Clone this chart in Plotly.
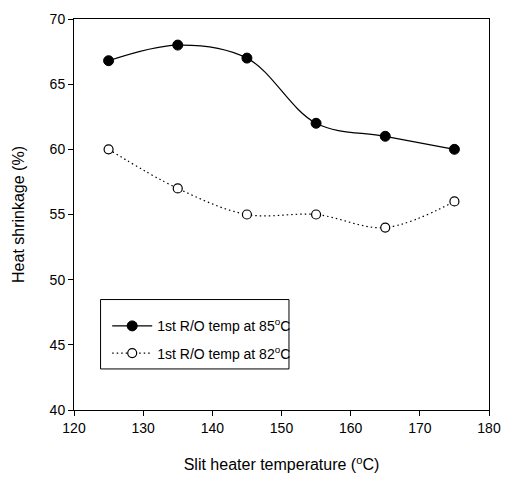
import plotly.graph_objects as go

# Slit heater temperature (°C)
temps = [125, 135, 145, 155, 165, 175]
# Heat shrinkage (%) for each first R/O temperature
shrink_85 = [66.8, 68.0, 67.0, 62.0, 61.0, 60.0]
shrink_82 = [60.0, 57.0, 55.0, 55.0, 54.0, 56.0]

x_ticks = [120, 130, 140, 150, 160, 170, 180]
y_ticks = [40, 45, 50, 55, 60, 65, 70]

fig = go.Figure()
fig.add_trace(go.Scatter(
    x=temps, y=shrink_85, mode="lines+markers",
    name="1st R/O temp at 85<sup>o</sup>C", legendgroup="a",
    line=dict(color="black", width=1.2, shape="spline", smoothing=1.0),
    marker=dict(symbol="circle", size=10, color="black", line=dict(color="black", width=1)),
))
fig.add_trace(go.Scatter(
    x=temps, y=shrink_82, mode="lines+markers",
    name="1st R/O temp at 82<sup>o</sup>C", legendgroup="b",
    line=dict(color="black", width=1.2, dash="1.5px,3px", shape="spline", smoothing=1.0),
    marker=dict(symbol="circle", size=9, color="white", line=dict(color="black", width=1.2)),
))

axis_common = dict(
    showgrid=False, zeroline=False, showline=True, linecolor="black", linewidth=1,
    mirror=True, ticks="outside", ticklen=5, tickcolor="black", tickwidth=1,
    tickfont=dict(size=14, color="black"),
)

# box framing the legend
fig.add_shape(type="rect", xref="paper", yref="paper",
              x0=0.064, x1=0.518, y0=0.105, y1=0.2825,
              line=dict(color="black", width=1), fillcolor="white", layer="above")

fig.update_layout(
    width=512, height=482,
    margin=dict(l=74, r=17, t=11, b=71),
    paper_bgcolor="white", plot_bgcolor="white",
    font=dict(family="Liberation Sans, Arial, sans-serif", color="black"),
    xaxis=dict(range=[120, 180], tickvals=x_ticks,
               title=dict(text="Slit heater temperature (<sup>o</sup>C)", font=dict(size=16), standoff=24),
               **axis_common),
    yaxis=dict(range=[40, 70], tickvals=y_ticks,
               title=dict(text="Heat shrinkage (%)", font=dict(size=16), standoff=21),
               **axis_common),
    legend=dict(x=0.08, y=0.255, xanchor="left", yanchor="top",
                bgcolor="rgba(0,0,0,0)", borderwidth=0,
                font=dict(size=14), tracegroupgap=6, itemwidth=40),
    showlegend=True,
)

fig.write_html("out.html")
